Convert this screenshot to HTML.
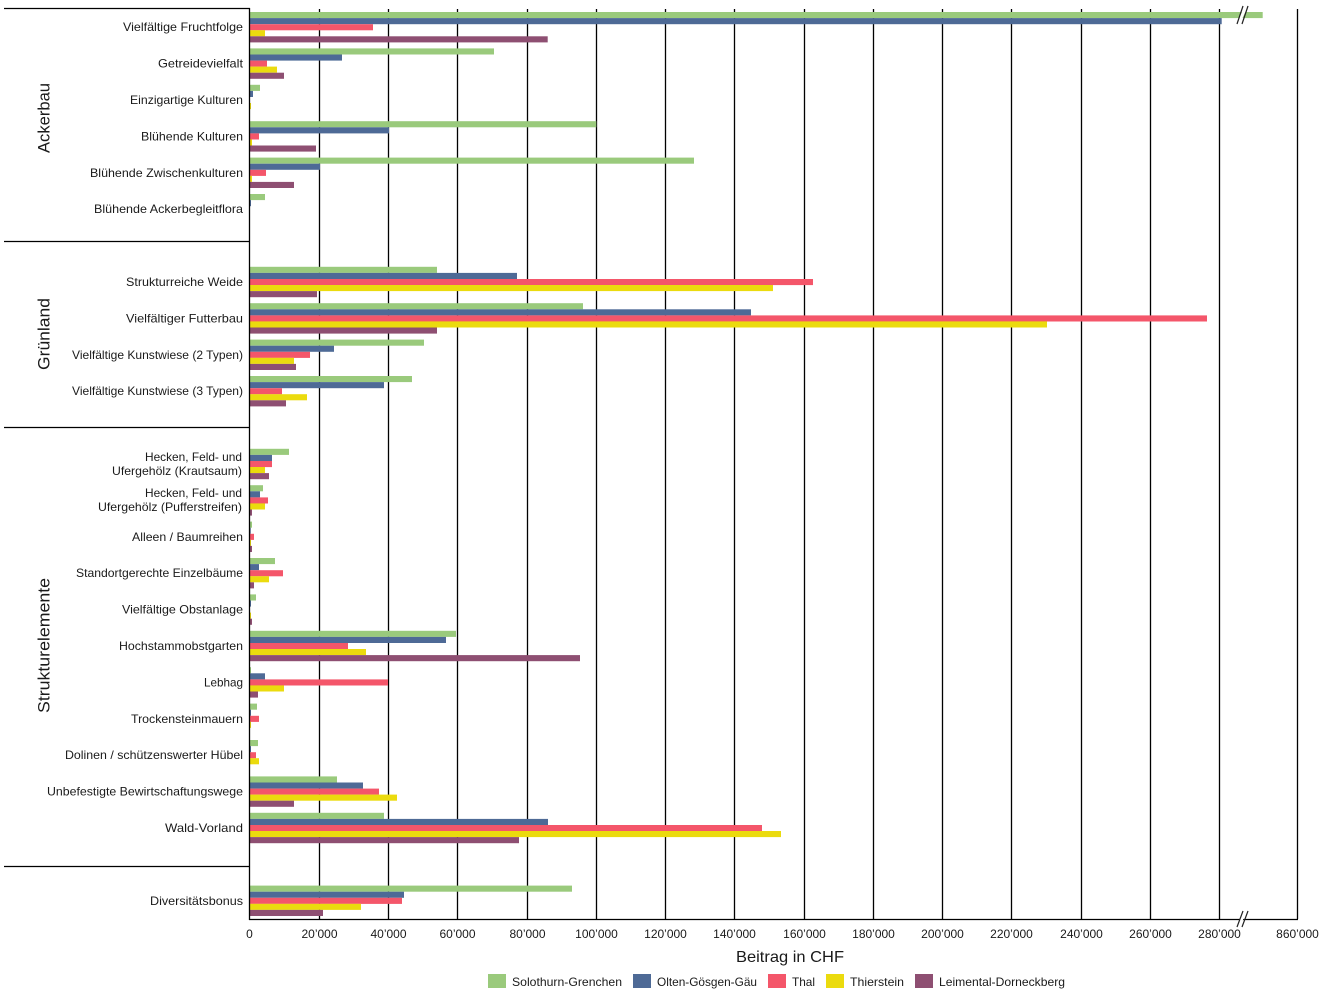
<!DOCTYPE html>
<html><head><meta charset="utf-8"><style>
html,body{margin:0;padding:0;background:#fff;}
svg{display:block;}
text{font-family:"Liberation Sans",Arial,sans-serif;fill:#1a1a1a;}
</style></head><body>
<svg width="1325" height="995" viewBox="0 0 1325 995" xmlns="http://www.w3.org/2000/svg">
<rect width="1325" height="995" fill="#fff"/>
<!-- gridlines -->
<g stroke="#000" stroke-width="1.3">
<line x1="319.5" y1="9" x2="319.5" y2="919"/>
<line x1="388.5" y1="9" x2="388.5" y2="919"/>
<line x1="457.5" y1="9" x2="457.5" y2="919"/>
<line x1="527.5" y1="9" x2="527.5" y2="919"/>
<line x1="596.5" y1="9" x2="596.5" y2="919"/>
<line x1="665.5" y1="9" x2="665.5" y2="919"/>
<line x1="734.5" y1="9" x2="734.5" y2="919"/>
<line x1="804.5" y1="9" x2="804.5" y2="919"/>
<line x1="873.5" y1="9" x2="873.5" y2="919"/>
<line x1="942.5" y1="9" x2="942.5" y2="919"/>
<line x1="1011.5" y1="9" x2="1011.5" y2="919"/>
<line x1="1081.5" y1="9" x2="1081.5" y2="919"/>
<line x1="1150.5" y1="9" x2="1150.5" y2="919"/>
<line x1="1219.5" y1="9" x2="1219.5" y2="919"/>
<line x1="1297.5" y1="9" x2="1297.5" y2="919"/>
</g>
<!-- bars -->
<g>
<!-- cat0 -->
<rect x="249.5" y="12.0" width="1013.2" height="6.1" fill="#9aca7c"/>
<rect x="249.5" y="18.1" width="972.2" height="6.1" fill="#4e6a96"/>
<rect x="249.5" y="24.2" width="123.5" height="6.1" fill="#f4566a"/>
<rect x="249.5" y="30.2" width="15.5" height="6.1" fill="#ebdb0e"/>
<rect x="249.5" y="36.3" width="298.2" height="6.1" fill="#8e4f72"/>
<!-- cat1 -->
<rect x="249.5" y="48.4" width="244.5" height="6.1" fill="#9aca7c"/>
<rect x="249.5" y="54.5" width="92.5" height="6.1" fill="#4e6a96"/>
<rect x="249.5" y="60.6" width="17.5" height="6.1" fill="#f4566a"/>
<rect x="249.5" y="66.6" width="27.5" height="6.1" fill="#ebdb0e"/>
<rect x="249.5" y="72.7" width="34.5" height="6.1" fill="#8e4f72"/>
<!-- cat2 -->
<rect x="249.5" y="84.8" width="10.5" height="6.1" fill="#9aca7c"/>
<rect x="249.5" y="90.9" width="3.5" height="6.1" fill="#4e6a96"/>
<rect x="249.5" y="103.0" width="1.5" height="6.1" fill="#ebdb0e"/>
<!-- cat3 -->
<rect x="249.5" y="121.2" width="346.8" height="6.1" fill="#9aca7c"/>
<rect x="249.5" y="127.3" width="139.5" height="6.1" fill="#4e6a96"/>
<rect x="249.5" y="133.4" width="9.5" height="6.1" fill="#f4566a"/>
<rect x="249.5" y="139.4" width="2.5" height="6.1" fill="#ebdb0e"/>
<rect x="249.5" y="145.5" width="66.5" height="6.1" fill="#8e4f72"/>
<!-- cat4 -->
<rect x="249.5" y="157.6" width="444.5" height="6.1" fill="#9aca7c"/>
<rect x="249.5" y="163.7" width="70.5" height="6.1" fill="#4e6a96"/>
<rect x="249.5" y="169.8" width="16.5" height="6.1" fill="#f4566a"/>
<rect x="249.5" y="175.8" width="2.5" height="6.1" fill="#ebdb0e"/>
<rect x="249.5" y="181.9" width="44.5" height="6.1" fill="#8e4f72"/>
<!-- cat5 -->
<rect x="249.5" y="194.0" width="15.5" height="6.1" fill="#9aca7c"/>
<rect x="249.5" y="200.1" width="1.5" height="6.1" fill="#4e6a96"/>
<!-- cat7 -->
<rect x="249.5" y="266.8" width="187.5" height="6.1" fill="#9aca7c"/>
<rect x="249.5" y="272.9" width="267.5" height="6.1" fill="#4e6a96"/>
<rect x="249.5" y="279.0" width="563.5" height="6.1" fill="#f4566a"/>
<rect x="249.5" y="285.0" width="523.5" height="6.1" fill="#ebdb0e"/>
<rect x="249.5" y="291.1" width="67.5" height="6.1" fill="#8e4f72"/>
<!-- cat8 -->
<rect x="249.5" y="303.2" width="333.5" height="6.1" fill="#9aca7c"/>
<rect x="249.5" y="309.3" width="501.5" height="6.1" fill="#4e6a96"/>
<rect x="249.5" y="315.4" width="957.5" height="6.1" fill="#f4566a"/>
<rect x="249.5" y="321.4" width="797.5" height="6.1" fill="#ebdb0e"/>
<rect x="249.5" y="327.5" width="187.5" height="6.1" fill="#8e4f72"/>
<!-- cat9 -->
<rect x="249.5" y="339.6" width="174.5" height="6.1" fill="#9aca7c"/>
<rect x="249.5" y="345.7" width="84.5" height="6.1" fill="#4e6a96"/>
<rect x="249.5" y="351.8" width="60.5" height="6.1" fill="#f4566a"/>
<rect x="249.5" y="357.8" width="44.5" height="6.1" fill="#ebdb0e"/>
<rect x="249.5" y="363.9" width="46.5" height="6.1" fill="#8e4f72"/>
<!-- cat10 -->
<rect x="249.5" y="376.0" width="162.5" height="6.1" fill="#9aca7c"/>
<rect x="249.5" y="382.1" width="134.5" height="6.1" fill="#4e6a96"/>
<rect x="249.5" y="388.2" width="32.5" height="6.1" fill="#f4566a"/>
<rect x="249.5" y="394.2" width="57.5" height="6.1" fill="#ebdb0e"/>
<rect x="249.5" y="400.3" width="36.5" height="6.1" fill="#8e4f72"/>
<!-- cat12 -->
<rect x="249.5" y="448.8" width="39.5" height="6.1" fill="#9aca7c"/>
<rect x="249.5" y="454.9" width="22.5" height="6.1" fill="#4e6a96"/>
<rect x="249.5" y="461.0" width="22.5" height="6.1" fill="#f4566a"/>
<rect x="249.5" y="467.0" width="15.5" height="6.1" fill="#ebdb0e"/>
<rect x="249.5" y="473.1" width="19.5" height="6.1" fill="#8e4f72"/>
<!-- cat13 -->
<rect x="249.5" y="485.2" width="13.5" height="6.1" fill="#9aca7c"/>
<rect x="249.5" y="491.3" width="10.5" height="6.1" fill="#4e6a96"/>
<rect x="249.5" y="497.4" width="18.5" height="6.1" fill="#f4566a"/>
<rect x="249.5" y="503.4" width="15.5" height="6.1" fill="#ebdb0e"/>
<rect x="249.5" y="509.5" width="2.5" height="6.1" fill="#8e4f72"/>
<!-- cat14 -->
<rect x="249.5" y="521.6" width="2.5" height="6.1" fill="#9aca7c"/>
<rect x="249.5" y="527.7" width="1.2" height="6.1" fill="#4e6a96"/>
<rect x="249.5" y="533.8" width="4.5" height="6.1" fill="#f4566a"/>
<rect x="249.5" y="539.8" width="1.5" height="6.1" fill="#ebdb0e"/>
<rect x="249.5" y="545.9" width="2.5" height="6.1" fill="#8e4f72"/>
<!-- cat15 -->
<rect x="249.5" y="558.0" width="25.5" height="6.1" fill="#9aca7c"/>
<rect x="249.5" y="564.1" width="9.5" height="6.1" fill="#4e6a96"/>
<rect x="249.5" y="570.2" width="33.5" height="6.1" fill="#f4566a"/>
<rect x="249.5" y="576.2" width="19.5" height="6.1" fill="#ebdb0e"/>
<rect x="249.5" y="582.3" width="4.5" height="6.1" fill="#8e4f72"/>
<!-- cat16 -->
<rect x="249.5" y="594.4" width="6.5" height="6.1" fill="#9aca7c"/>
<rect x="249.5" y="600.5" width="1.5" height="6.1" fill="#4e6a96"/>
<rect x="249.5" y="612.6" width="1.5" height="6.1" fill="#ebdb0e"/>
<rect x="249.5" y="618.7" width="2.5" height="6.1" fill="#8e4f72"/>
<!-- cat17 -->
<rect x="249.5" y="630.8" width="206.5" height="6.1" fill="#9aca7c"/>
<rect x="249.5" y="636.9" width="196.5" height="6.1" fill="#4e6a96"/>
<rect x="249.5" y="643.0" width="98.5" height="6.1" fill="#f4566a"/>
<rect x="249.5" y="649.0" width="116.5" height="6.1" fill="#ebdb0e"/>
<rect x="249.5" y="655.1" width="330.5" height="6.1" fill="#8e4f72"/>
<!-- cat18 -->
<rect x="249.5" y="667.2" width="1.5" height="6.1" fill="#9aca7c"/>
<rect x="249.5" y="673.3" width="15.5" height="6.1" fill="#4e6a96"/>
<rect x="249.5" y="679.4" width="138.5" height="6.1" fill="#f4566a"/>
<rect x="249.5" y="685.4" width="34.5" height="6.1" fill="#ebdb0e"/>
<rect x="249.5" y="691.5" width="8.5" height="6.1" fill="#8e4f72"/>
<!-- cat19 -->
<rect x="249.5" y="703.6" width="7.5" height="6.1" fill="#9aca7c"/>
<rect x="249.5" y="709.7" width="1.5" height="6.1" fill="#4e6a96"/>
<rect x="249.5" y="715.8" width="9.5" height="6.1" fill="#f4566a"/>
<rect x="249.5" y="721.8" width="1.5" height="6.1" fill="#ebdb0e"/>
<!-- cat20 -->
<rect x="249.5" y="740.0" width="8.5" height="6.1" fill="#9aca7c"/>
<rect x="249.5" y="746.1" width="1.5" height="6.1" fill="#4e6a96"/>
<rect x="249.5" y="752.2" width="6.5" height="6.1" fill="#f4566a"/>
<rect x="249.5" y="758.2" width="9.5" height="6.1" fill="#ebdb0e"/>
<!-- cat21 -->
<rect x="249.5" y="776.4" width="87.5" height="6.1" fill="#9aca7c"/>
<rect x="249.5" y="782.5" width="113.5" height="6.1" fill="#4e6a96"/>
<rect x="249.5" y="788.6" width="129.5" height="6.1" fill="#f4566a"/>
<rect x="249.5" y="794.6" width="147.5" height="6.1" fill="#ebdb0e"/>
<rect x="249.5" y="800.7" width="44.5" height="6.1" fill="#8e4f72"/>
<!-- cat22 -->
<rect x="249.5" y="812.8" width="134.5" height="6.1" fill="#9aca7c"/>
<rect x="249.5" y="818.9" width="298.5" height="6.1" fill="#4e6a96"/>
<rect x="249.5" y="825.0" width="512.5" height="6.1" fill="#f4566a"/>
<rect x="249.5" y="831.0" width="531.5" height="6.1" fill="#ebdb0e"/>
<rect x="249.5" y="837.1" width="269.5" height="6.1" fill="#8e4f72"/>
<!-- cat24 -->
<rect x="249.5" y="885.6" width="322.5" height="6.1" fill="#9aca7c"/>
<rect x="249.5" y="891.7" width="154.5" height="6.1" fill="#4e6a96"/>
<rect x="249.5" y="897.8" width="152.5" height="6.1" fill="#f4566a"/>
<rect x="249.5" y="903.8" width="111.5" height="6.1" fill="#ebdb0e"/>
<rect x="249.5" y="909.9" width="73.5" height="6.1" fill="#8e4f72"/>
</g>
<!-- axes and separators -->
<g stroke="#000" stroke-width="1.3">
<line x1="249.5" y1="8" x2="249.5" y2="920"/>
<line x1="249" y1="919.5" x2="1298" y2="919.5"/>
<line x1="4" y1="8.5" x2="250" y2="8.5"/>
<line x1="4" y1="241.5" x2="250" y2="241.5"/>
<line x1="4" y1="427.5" x2="250" y2="427.5"/>
<line x1="4" y1="866.5" x2="250" y2="866.5"/>
</g>
<!-- break marks -->
<g stroke="#fff" stroke-width="3">
<line x1="1239.5" y1="21" x2="1245.5" y2="8"/>
<line x1="1239.5" y1="923" x2="1245.5" y2="912"/>
</g>
<g stroke="#222" stroke-width="1.2">
<line x1="1237" y1="24" x2="1243" y2="6"/>
<line x1="1242" y1="24" x2="1248" y2="6"/>
<line x1="1237" y1="927" x2="1243" y2="911"/>
<line x1="1242" y1="927" x2="1248" y2="911"/>
</g>
<!-- category labels -->
<g font-size="12" text-anchor="end">
<text x="243" y="31.2" textLength="120" lengthAdjust="spacingAndGlyphs">Vielfältige Fruchtfolge</text>
<text x="243" y="67.6" textLength="85" lengthAdjust="spacingAndGlyphs">Getreidevielfalt</text>
<text x="243" y="104.0" textLength="113" lengthAdjust="spacingAndGlyphs">Einzigartige Kulturen</text>
<text x="243" y="140.4" textLength="102" lengthAdjust="spacingAndGlyphs">Blühende Kulturen</text>
<text x="243" y="176.8" textLength="153" lengthAdjust="spacingAndGlyphs">Blühende Zwischenkulturen</text>
<text x="243" y="213.2" textLength="149" lengthAdjust="spacingAndGlyphs">Blühende Ackerbegleitflora</text>
<text x="243" y="286.0" textLength="117" lengthAdjust="spacingAndGlyphs">Strukturreiche Weide</text>
<text x="243" y="322.4" textLength="117" lengthAdjust="spacingAndGlyphs">Vielfältiger Futterbau</text>
<text x="243" y="358.8" textLength="171" lengthAdjust="spacingAndGlyphs">Vielfältige Kunstwiese (2 Typen)</text>
<text x="243" y="395.2" textLength="171" lengthAdjust="spacingAndGlyphs">Vielfältige Kunstwiese (3 Typen)</text>
<text x="242" y="461" textLength="97" lengthAdjust="spacingAndGlyphs">Hecken, Feld- und</text>
<text x="242" y="475" textLength="130" lengthAdjust="spacingAndGlyphs">Ufergehölz (Krautsaum)</text>
<text x="242" y="497" textLength="97" lengthAdjust="spacingAndGlyphs">Hecken, Feld- und</text>
<text x="242" y="511" textLength="144" lengthAdjust="spacingAndGlyphs">Ufergehölz (Pufferstreifen)</text>
<text x="243" y="540.8" textLength="111" lengthAdjust="spacingAndGlyphs">Alleen / Baumreihen</text>
<text x="243" y="577.2" textLength="167" lengthAdjust="spacingAndGlyphs">Standortgerechte Einzelbäume</text>
<text x="243" y="613.6" textLength="121" lengthAdjust="spacingAndGlyphs">Vielfältige Obstanlage</text>
<text x="243" y="650.0" textLength="124" lengthAdjust="spacingAndGlyphs">Hochstammobstgarten</text>
<text x="243" y="686.4" textLength="39" lengthAdjust="spacingAndGlyphs">Lebhag</text>
<text x="243" y="722.8" textLength="112" lengthAdjust="spacingAndGlyphs">Trockensteinmauern</text>
<text x="243" y="759.2" textLength="178" lengthAdjust="spacingAndGlyphs">Dolinen / schützenswerter Hübel</text>
<text x="243" y="795.6" textLength="196" lengthAdjust="spacingAndGlyphs">Unbefestigte Bewirtschaftungswege</text>
<text x="243" y="832.0" textLength="78" lengthAdjust="spacingAndGlyphs">Wald-Vorland</text>
<text x="243" y="904.8" textLength="93" lengthAdjust="spacingAndGlyphs">Diversitätsbonus</text>
</g>
<!-- group labels -->
<g font-size="17" text-anchor="middle">
<text transform="translate(49.5,118) rotate(-90)" x="0" y="0" textLength="70" lengthAdjust="spacingAndGlyphs">Ackerbau</text>
<text transform="translate(49.5,334) rotate(-90)" x="0" y="0" textLength="72" lengthAdjust="spacingAndGlyphs">Grünland</text>
<text transform="translate(49.5,645.5) rotate(-90)" x="0" y="0" textLength="135" lengthAdjust="spacingAndGlyphs">Strukturelemente</text>
</g>
<!-- tick labels -->
<g font-size="12" text-anchor="middle">
<text x="249.5" y="938">0</text>
<text x="319.5" y="938">20’000</text>
<text x="388.5" y="938">40’000</text>
<text x="457.5" y="938">60’000</text>
<text x="527.5" y="938">80’000</text>
<text x="596.5" y="938">100’000</text>
<text x="665.5" y="938">120’000</text>
<text x="734.5" y="938">140’000</text>
<text x="804.5" y="938">160’000</text>
<text x="873.5" y="938">180’000</text>
<text x="942.5" y="938">200’000</text>
<text x="1011.5" y="938">220’000</text>
<text x="1081.5" y="938">240’000</text>
<text x="1150.5" y="938">260’000</text>
<text x="1219.5" y="938">280’000</text>
<text x="1297.5" y="938">860’000</text>
</g>
<!-- axis title -->
<text x="790" y="962" font-size="16" text-anchor="middle" textLength="108" lengthAdjust="spacingAndGlyphs">Beitrag in CHF</text>
<!-- legend -->
<rect x="488" y="974" width="18" height="14" fill="#9aca7c"/>
<text x="512" y="986" font-size="12" textLength="110" lengthAdjust="spacingAndGlyphs">Solothurn-Grenchen</text>
<rect x="633" y="974" width="18" height="14" fill="#4e6a96"/>
<text x="657" y="986" font-size="12" textLength="100" lengthAdjust="spacingAndGlyphs">Olten-Gösgen-Gäu</text>
<rect x="768" y="974" width="18" height="14" fill="#f4566a"/>
<text x="792" y="986" font-size="12" textLength="23" lengthAdjust="spacingAndGlyphs">Thal</text>
<rect x="826" y="974" width="18" height="14" fill="#ebdb0e"/>
<text x="850" y="986" font-size="12" textLength="54" lengthAdjust="spacingAndGlyphs">Thierstein</text>
<rect x="915" y="974" width="18" height="14" fill="#8e4f72"/>
<text x="939" y="986" font-size="12" textLength="126" lengthAdjust="spacingAndGlyphs">Leimental-Dorneckberg</text>
</svg>
</body></html>
